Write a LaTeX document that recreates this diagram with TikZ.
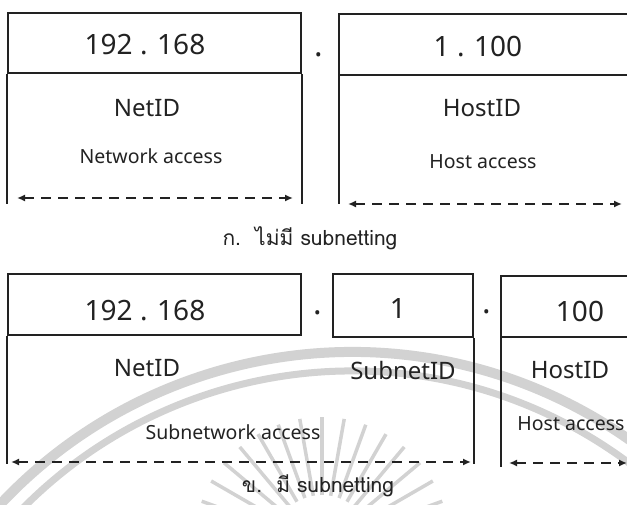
\documentclass[tikz,border=0pt]{standalone}
\usepackage{fontspec}
\setmainfont{Noto Sans}
\newfontfamily\thaifont[Script=Thai]{Loma}
\usetikzlibrary{arrows.meta}
\definecolor{ink}{HTML}{222222}
\definecolor{sealgray}{HTML}{D2D2D2}
\tikzset{
  frame/.style={draw=ink, line width=2.2pt},
  cell/.style={frame, inner sep=0pt},
  num/.style={text=ink, font=\fontsize{28}{32}\selectfont, inner sep=0pt},
  idtxt/.style={text=ink, font=\fontsize{24}{28}\selectfont, inner sep=0pt},
  acc/.style={text=ink, font=\fontsize{19.5}{23}\selectfont, inner sep=0pt},
  dottxt/.style={text=ink, font=\fontsize{32}{36}\selectfont, inner sep=0pt},
  captxt/.style={text=ink, font=\thaifont\fontsize{21}{25}\selectfont, inner sep=0pt},
  spanarrow/.style={draw=ink, line width=2.5pt, dash pattern=on 10pt off 7pt,
    {Latex[length=8pt,width=7pt]}-{Latex[length=8pt,width=7pt]}},
  wm/.style={draw=sealgray, line width=10pt},
  ray/.style={draw=sealgray, line width=3.5pt}
}
\begin{document}
\begin{tikzpicture}[x=1pt,y=-1pt]
\useasboundingbox (0,0) rectangle (627,505);
\clip (0,0) rectangle (627,505);
\fill[white] (0,0) rectangle (627,505);

% faint seal behind the lower diagram
\begin{scope}
  \draw[wm] (352,834) ++(210:482) arc[start angle=210, end angle=330, radius=482];
  \draw[wm, line width=7pt] (352,834) ++(210:463) arc[start angle=210, end angle=330, radius=463];
  \foreach \a in {20,30,...,160}{
    \draw[ray] (322,545) ++(-\a:50) -- ++(-\a:78);
  }
\end{scope}

% ---------- without subnetting ----------
\node[cell, minimum width=293pt, minimum height=60pt] (a1) at (154.5,43) {};
\draw[frame] (a1.south west) -- ++(0,130) coordinate (a1l);
\draw[frame] (a1.south east) -- ++(0,130) coordinate (a1r);
\node[num] (a1t) at (145,45) {192 . 168};
\node[dottxt] (d1) at (319,55) {.};
\draw[frame] (640,14) -- (339,14) coordinate (b1nw) -- (339,204) coordinate (b1l);
\draw[frame] (339,75) coordinate (b1sw) -- (640,75);
\node[num] (b1t) at (478,47) {1 . 100};
\node[idtxt] (a1id) at (147,108) {NetID};
\node[acc] (a1ac) at (151,156) {Network access};
\node[idtxt] (b1id) at (482,108) {HostID};
\node[acc] (b1ac) at (483,162) {Host access};
\coordinate (s1a) at (17,198);
\coordinate (s1b) at (293,198);
\draw[spanarrow] (s1a) -- (s1b);
\coordinate (s2a) at (348,204);
\coordinate (s2b) at (622,204);
\draw[spanarrow] (s2a) -- (s2b);
\node[captxt] (c1) at (310,238) {ก.\ \ ไม่มี subnetting};

% ---------- with subnetting ----------
\node[cell, fill=white, minimum width=293pt, minimum height=61pt] (a2) at (154.5,304.5) {};
\draw[frame] (a2.south west) -- ++(0,128) coordinate (a2l);
\node[num] (a2t) at (145,311) {192 . 168};
\node[dottxt] (d2) at (318,313) {.};
\node[cell, fill=white, minimum width=140pt, minimum height=63pt] (b2) at (403,305.5) {};
\draw[frame] (b2.south east) -- ++(0,126) coordinate (b2r);
\node[num] (b2t) at (398,309) {1};
\node[dottxt] (d3) at (487,312) {.};
\draw[frame, fill=white] (640,276) -- (501,276) -- (501,337) -- (640,337);
\draw[frame] (501,337) coordinate (c2sw) -- (501,467) coordinate (c2l);
\node[num] (c2t) at (580,311) {100};
\node[idtxt] (a2id) at (147,368) {NetID};
\node[idtxt] (b2id) at (403,370) {SubnetID};
\node[idtxt] (c2id) at (570,370) {HostID};
\node[acc] (a2ac) at (233,432) {Subnetwork access};
\node[acc] (c2ac) at (571,424) {Host access};
\coordinate (s3a) at (11,462);
\coordinate (s3b) at (471,462);
\draw[spanarrow] (s3a) -- (s3b);
\coordinate (s4a) at (509,463);
\coordinate (s4b) at (627,463);
\draw[spanarrow] (s4a) -- (s4b);
\node[captxt] (c2) at (318,486) {ข.\ \ มี subnetting};
\end{tikzpicture}
\end{document}
